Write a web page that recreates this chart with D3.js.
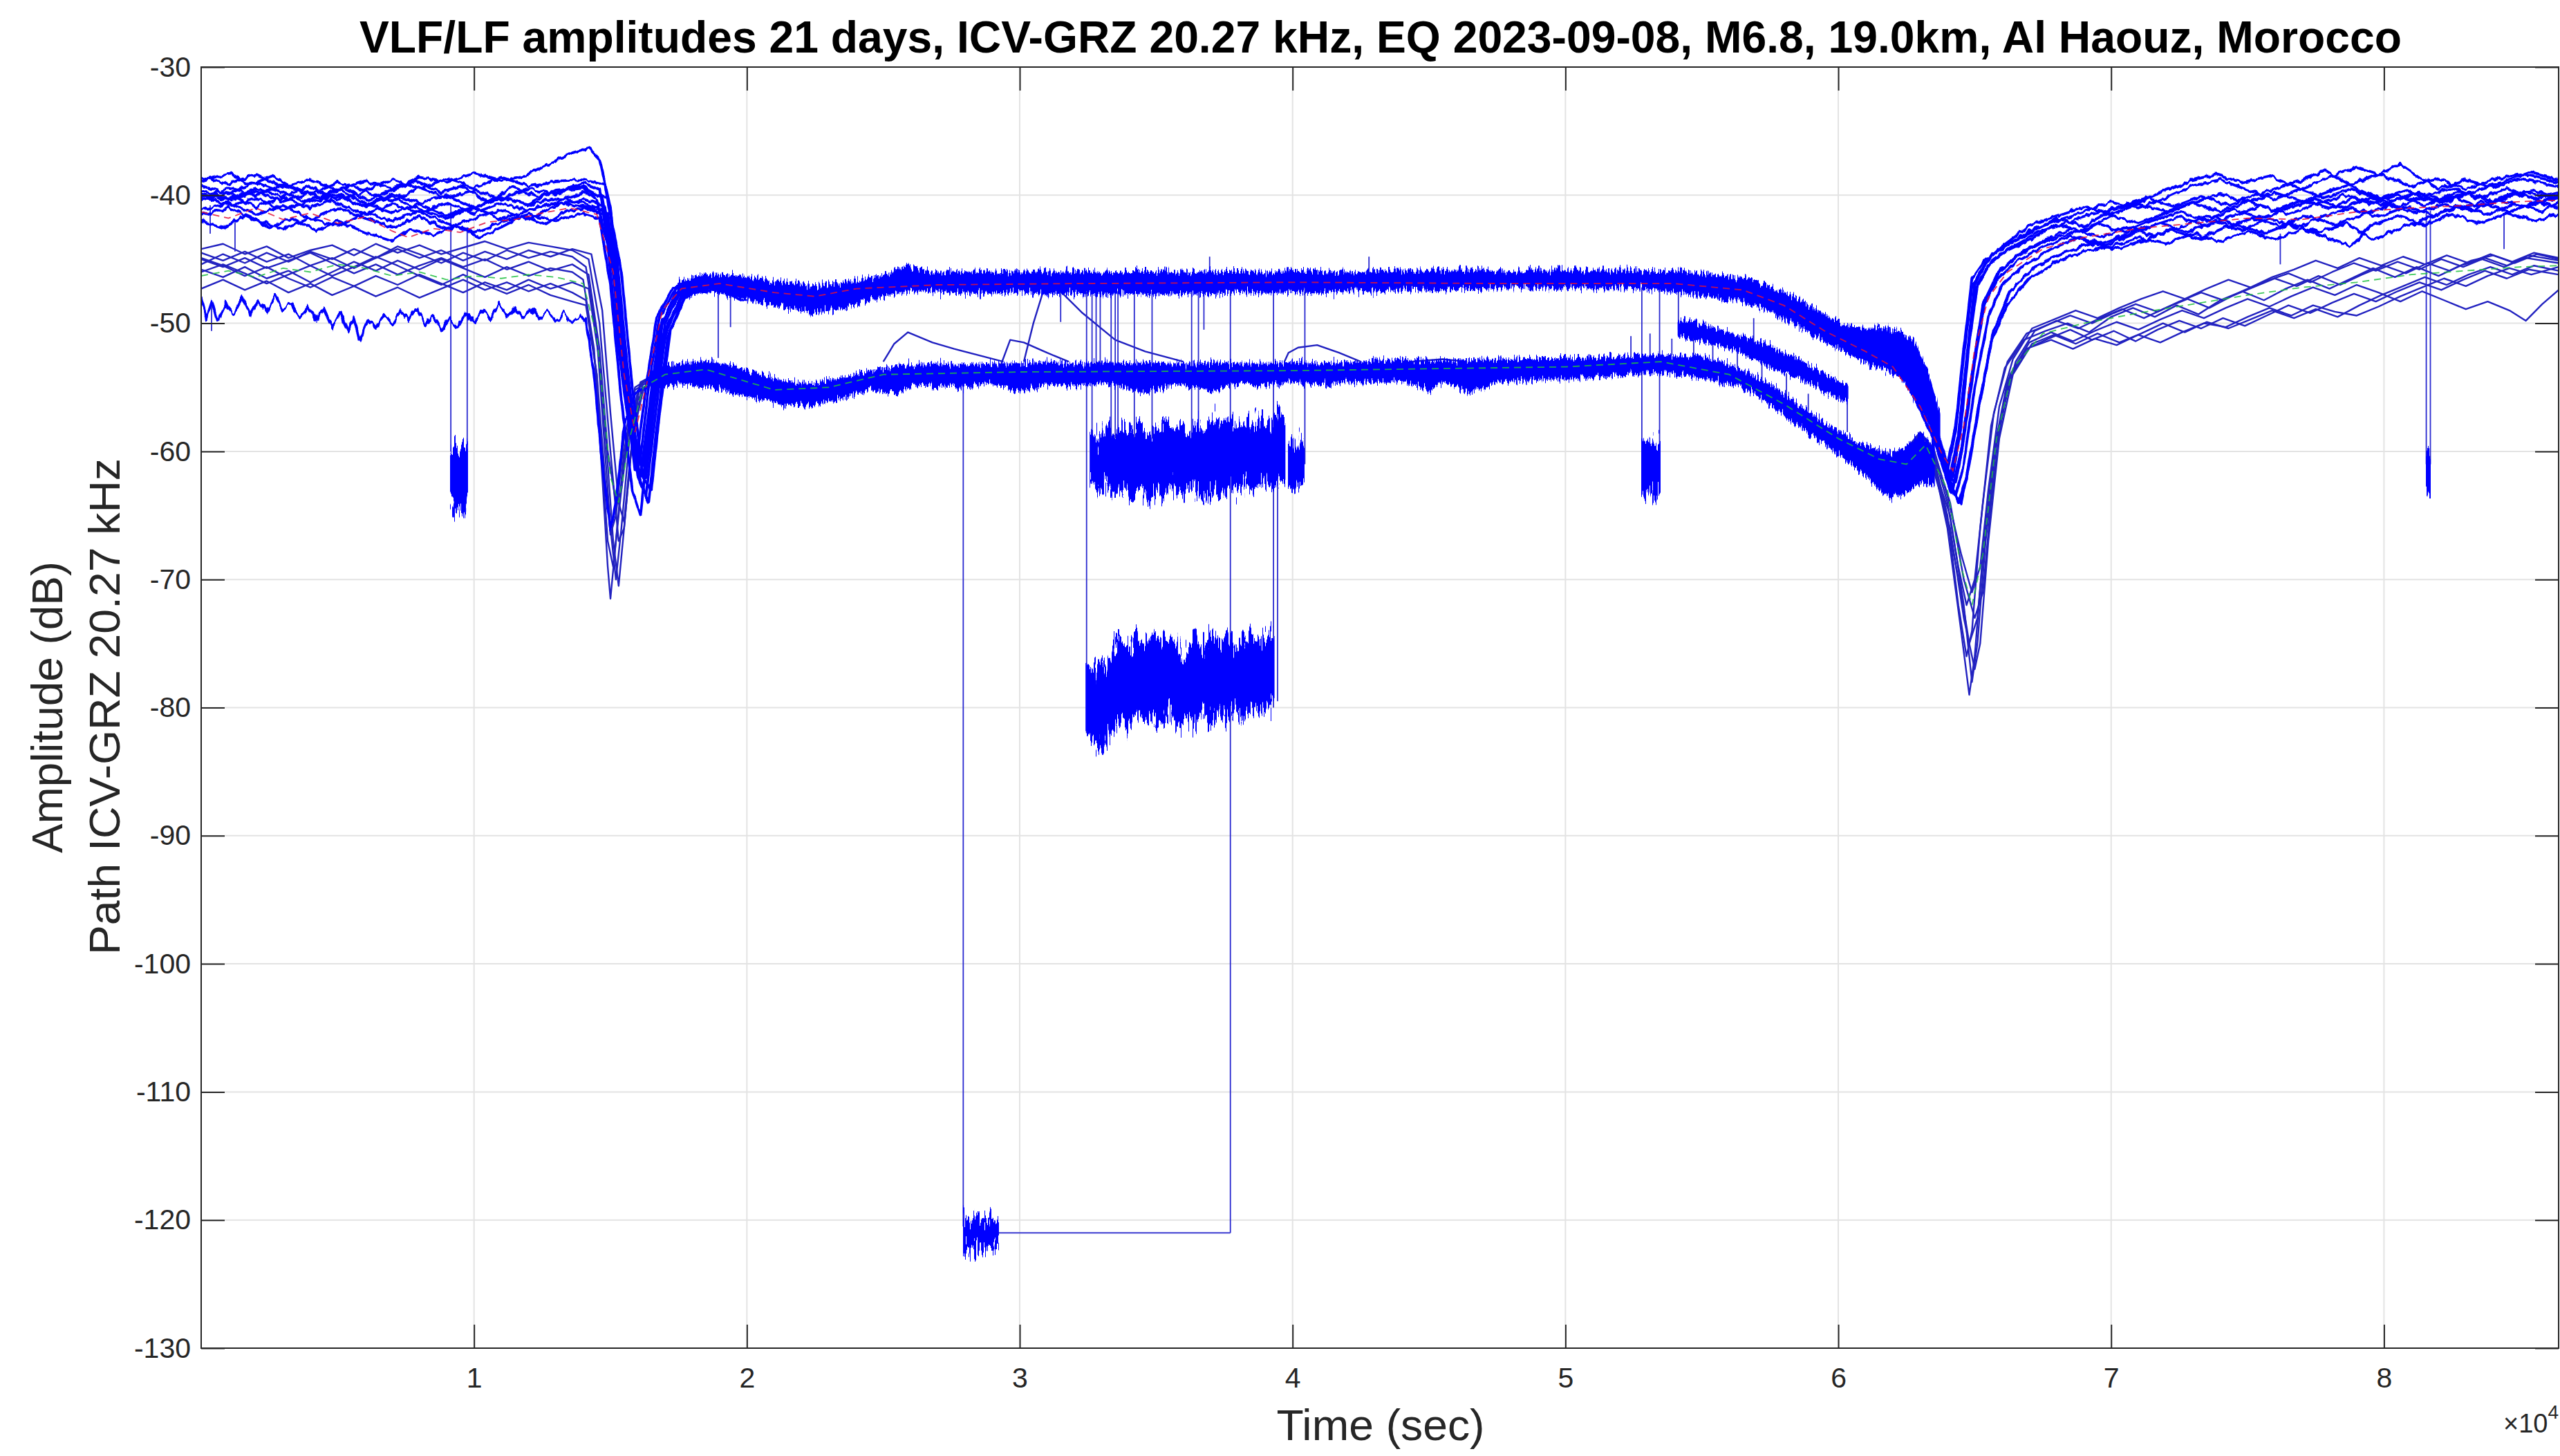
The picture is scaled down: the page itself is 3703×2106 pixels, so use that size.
<!DOCTYPE html>
<html lang="en">
<head>
<meta charset="utf-8">
<title>VLF/LF amplitudes 21 days, ICV-GRZ</title>
<script src="https://d3js.org/d3.v7.min.js"></script>
<style>
  body { margin: 0; background: #fff; }
  text { font-family: "Liberation Sans", Arial, Helvetica, sans-serif; fill: #262626; }
</style>
</head>
<body>
<svg id="chart" width="3703" height="2106"></svg>
<script>

// ---- data: time in ks (x 1000 sec), amplitude in dB ----

var xTicks = [10000, 20000, 30000, 40000, 50000, 60000, 70000, 80000];
var yTicks = [-130, -120, -110, -100, -90, -80, -70, -60, -50, -40, -30];

// night records, upper (thick) group, down to the sunrise dip and into the day band
var nightThick = [
  [[0,-38.6],[1,-39.1],[2,-38.4],[3,-39.4],[4,-38.8],[5,-39.6],[6,-38.9],[7,-39.5],[8,-38.6],[9,-39.0],[10,-38.3],[11,-38.9],[12,-38.4],[12.8,-37.5],[13.6,-36.7],[14.2,-36.3],[14.6,-37.2],[15.0,-41],[15.4,-50],[15.8,-58],[16.1,-60.5],[16.4,-55],[16.8,-49.5],[17.4,-47.3],[18.5,-46.5],[20,-46.9]],
  [[0,-39.6],[1,-40.3],[2,-39.5],[3,-40.1],[4,-39.3],[5,-40.4],[6,-39.7],[7,-40.5],[8,-39.4],[9,-40.2],[10,-39.6],[11,-40.3],[12,-39.5],[13,-39.9],[14,-39.1],[14.6,-39.6],[15.0,-44],[15.4,-52],[15.8,-59],[16.1,-62],[16.4,-57],[16.8,-50.5],[17.4,-47.6],[18.5,-46.8],[20,-47.3]],
  [[0,-40.5],[1,-39.8],[2,-40.9],[3,-40.2],[4,-41.0],[5,-40.1],[6,-40.8],[7,-39.9],[8,-40.6],[9,-40.0],[10,-41.0],[11,-40.2],[12,-40.7],[13,-39.6],[14,-39.4],[14.7,-40.2],[15.1,-45],[15.5,-54],[15.9,-61],[16.2,-63],[16.5,-57],[16.9,-50],[17.5,-47.4],[18.6,-46.7],[20,-47.6]],
  [[0,-41.2],[1,-40.6],[2,-41.5],[3,-40.8],[4,-41.9],[5,-41.0],[6,-41.8],[7,-42.5],[8,-41.7],[9,-42.6],[10,-41.8],[11,-41.2],[12,-41.9],[13,-40.8],[14,-40.3],[14.8,-40.9],[15.2,-46],[15.6,-55],[16.0,-62],[16.3,-63.5],[16.6,-58],[17.0,-51],[17.6,-47.8],[18.7,-46.9],[20,-47.9]],
  [[0,-42.0],[0.8,-42.6],[1.6,-41.6],[2.5,-42.5],[3.3,-41.8],[4.2,-42.8],[5,-42.0],[6,-42.9],[7,-43.6],[7.6,-42.7],[8.5,-43.1],[9.3,-42.4],[10.2,-43.3],[11,-42.5],[11.8,-41.6],[12.6,-42.3],[13.4,-41.2],[14.2,-41.0],[14.8,-41.6],[15.2,-47],[15.6,-56],[15.9,-61.5],[16.2,-62],[16.6,-56],[17.1,-50],[17.8,-47.8],[19,-47.3],[20,-48.3]],
  [[0,-38.9],[1,-38.3],[1.8,-39.2],[2.6,-38.5],[3.5,-39.6],[4.4,-40.2],[5.2,-39.4],[6.1,-40.4],[7,-39.6],[7.9,-38.9],[8.8,-39.8],[9.6,-39.3],[10.5,-40.5],[11.4,-39.4],[12.3,-40.1],[13.2,-39.7],[14,-39.5],[14.5,-40.4],[14.9,-44],[15.3,-52],[15.7,-58.5],[16.0,-60],[16.3,-55],[16.7,-49.5],[17.3,-47.2],[18.4,-46.4],[20,-46.8]],
  [[0,-40.0],[1,-40.8],[2,-40.2],[3,-41.2],[4,-40.4],[5,-39.5],[6,-40.6],[7,-41.4],[8,-40.7],[9,-41.6],[10,-40.9],[11,-40.1],[12,-40.8],[13,-40.2],[14,-40.6],[14.9,-41.4],[15.3,-47],[15.7,-56],[16.1,-62.5],[16.4,-64],[16.7,-58],[17.1,-51],[17.7,-48],[18.8,-47.1],[20,-47.8]],
  [[0,-39.2],[1,-39.9],[2,-39.0],[3,-39.8],[4,-40.6],[5,-39.9],[6,-40.9],[7,-40.1],[8,-41.1],[9,-41.8],[10,-41.0],[11,-41.9],[12,-41.2],[13,-40.6],[14,-40.9],[14.7,-41.1],[15.1,-46],[15.5,-55],[15.9,-60],[16.2,-61],[16.5,-56],[16.9,-49.8],[17.5,-47.5],[18.6,-46.6],[20,-47.2]],
  [[0,-41.6],[1,-41.0],[2,-41.9],[3,-42.6],[4,-41.8],[5,-42.4],[6,-41.4],[7,-42.0],[8,-41.3],[9,-42.2],[10,-42.9],[11,-42.1],[12,-41.5],[13,-42.0],[14,-41.4],[14.6,-41.8],[15.0,-47],[15.4,-56],[15.8,-63],[16.1,-65],[16.4,-59],[16.9,-51],[17.6,-48],[18.7,-47.0],[20,-48.0]],
  [[0,-40.3],[1,-39.4],[2,-40.0],[3,-39.2],[4,-39.9],[5,-39.0],[6,-39.6],[7,-38.8],[8,-39.5],[9,-38.7],[10,-39.4],[11,-38.6],[12,-39.3],[13,-38.9],[14,-38.8],[14.8,-39.2],[15.2,-44],[15.6,-53],[16.0,-60.5],[16.3,-62],[16.6,-56.5],[17.0,-50],[17.6,-47.4],[18.7,-46.5],[20,-47.0]],
  [[0,-39.9],[1,-40.4],[2,-39.7],[3,-40.5],[4,-39.8],[5,-40.7],[6,-41.5],[7,-40.7],[8,-41.4],[9,-40.6],[10,-41.4],[11,-40.6],[12,-41.2],[13,-40.5],[14,-39.8],[14.9,-40.2],[15.4,-46],[15.8,-55],[16.2,-62],[16.5,-63],[16.8,-57],[17.2,-50.5],[17.8,-47.7],[19,-46.9],[20,-47.5]]
];

// night records, lower (thin) group
var nightThin = [
  [[0,-44.2],[0.8,-43.8],[1.6,-44.6],[2.4,-44.0],[3.2,-44.9],[4,-44.3],[4.8,-43.9],[5.6,-44.7],[6.4,-43.8],[7.2,-44.5],[8,-43.9],[8.8,-44.6],[9.6,-44.1],[10.4,-43.6],[11.2,-44.2],[12,-43.7],[12.8,-44.0],[13.6,-44.3],[14.2,-45.0],[14.6,-50],[15.0,-60],[15.3,-67],[15.5,-66],[15.8,-59],[16.2,-54.5],[17,-53.6],[18.5,-53.3],[20,-54.2]],
  [[0,-45.4],[0.8,-44.6],[1.6,-45.3],[2.4,-44.5],[3.2,-45.2],[4,-44.4],[4.8,-45.0],[5.6,-44.2],[6.4,-44.9],[7.2,-44.0],[8,-44.6],[8.8,-45.3],[9.6,-44.5],[10.4,-45.1],[11.2,-44.3],[12,-44.9],[12.8,-44.4],[13.6,-44.8],[14.1,-45.6],[14.5,-51],[14.8,-60],[15.0,-66],[15.2,-70],[15.4,-66],[15.7,-59],[16.1,-54.8],[17,-53.5],[18.5,-53.2],[20,-54.6]],
  [[0,-45.8],[0.8,-46.4],[1.6,-45.6],[2.4,-46.5],[3.2,-45.9],[4,-46.8],[4.8,-46.0],[5.6,-45.2],[6.4,-45.9],[7.2,-45.1],[8,-45.8],[8.8,-45.0],[9.6,-45.7],[10.4,-46.4],[11.2,-45.6],[12,-46.3],[12.8,-45.7],[13.6,-46.0],[14.0,-46.6],[14.4,-52],[14.7,-62],[14.9,-69],[15.0,-71.5],[15.2,-67],[15.5,-60],[15.9,-55.0],[16.8,-53.8],[18.5,-53.4],[20,-55.0]],
  [[0,-44.9],[0.8,-45.5],[1.6,-46.3],[2.4,-45.6],[3.2,-46.5],[4,-47.2],[4.8,-46.4],[5.6,-47.1],[6.4,-46.3],[7.2,-47.0],[8,-46.2],[8.8,-46.9],[9.6,-47.6],[10.4,-46.8],[11.2,-47.4],[12,-46.6],[12.8,-47.3],[13.6,-46.8],[14.2,-47.3],[14.6,-53],[14.9,-61],[15.1,-67],[15.3,-70.5],[15.5,-66],[15.8,-59],[16.2,-55.2],[17,-54.0],[18.5,-53.6],[20,-55.3]],
  [[0,-46.0],[0.8,-45.4],[1.6,-46.1],[2.4,-46.9],[3.2,-46.2],[4,-45.5],[4.8,-46.3],[5.6,-45.6],[6.4,-44.8],[7.2,-45.5],[8,-46.3],[8.8,-47.0],[9.6,-46.2],[10.4,-47.0],[11.2,-47.7],[12,-47.0],[12.8,-47.8],[13.6,-48.3],[14.1,-48.6],[14.5,-54],[14.8,-62],[15.0,-66.5],[15.2,-65],[15.5,-59],[15.9,-55.2],[16.8,-54.0],[18.5,-53.7],[20,-55.5]],
  [[0,-44.5],[0.8,-45.1],[1.6,-44.4],[2.4,-45.2],[3.2,-44.6],[4,-45.5],[4.8,-44.9],[5.6,-45.7],[6.4,-44.9],[7.2,-44.2],[8,-44.9],[8.8,-44.3],[9.6,-45.1],[10.4,-44.4],[11.2,-45.0],[12,-44.3],[12.8,-44.8],[13.6,-44.2],[14.3,-44.6],[14.7,-49],[15.0,-57],[15.3,-64],[15.5,-65.5],[15.7,-61],[16.0,-56],[16.6,-53.8],[18.5,-53.1],[20,-54.0]],
  [[0,-47.3],[0.8,-46.6],[1.6,-47.4],[2.4,-46.7],[3.2,-47.6],[4,-46.9],[4.8,-47.8],[5.6,-47.1],[6.4,-47.9],[7.2,-47.2],[8,-48.0],[8.8,-47.3],[9.6,-46.6],[10.4,-47.4],[11.2,-46.8],[12,-47.5],[12.8,-46.9],[13.6,-47.6],[14.1,-48.2],[14.5,-54],[14.7,-61],[14.9,-67],[15.1,-69],[15.3,-65],[15.6,-59],[16.0,-55.4],[16.9,-54.2],[18.5,-53.8],[20,-55.6]],
  [[0,-45.0],[0.8,-45.6],[1.6,-44.9],[2.4,-45.7],[3.2,-45.1],[4,-44.5],[4.8,-45.3],[5.6,-46.1],[6.4,-45.4],[7.2,-46.2],[8,-45.5],[8.8,-44.9],[9.6,-45.6],[10.4,-45.0],[11.2,-45.8],[12,-45.2],[12.8,-45.9],[13.6,-45.4],[14.2,-46.2],[14.6,-52],[14.9,-60],[15.2,-64],[15.4,-63],[15.7,-58],[16.1,-54.6],[17,-53.6],[18.5,-53.4],[20,-54.8]]
];

// the noisy low record at night
var nightNoisy = [[0,-48.0],[0.2,-49.6],[0.4,-48.3],[0.6,-49.9],[0.9,-48.5],[1.2,-49.2],[1.5,-48.0],[1.8,-49.4],[2.1,-48.2],[2.4,-49.1],[2.7,-47.9],[3.0,-49.0],[3.3,-48.4],[3.6,-49.6],[3.9,-48.7],[4.2,-49.8],[4.5,-48.9],[4.8,-50.3],[5.1,-49.2],[5.4,-50.6],[5.6,-49.6],[5.8,-51.3],[6.1,-49.8],[6.4,-50.4],[6.7,-49.3],[7.0,-50.1],[7.3,-49.0],[7.6,-49.7],[7.9,-48.8],[8.2,-50.0],[8.5,-49.4],[8.8,-50.6],[9.1,-49.6],[9.4,-50.4],[9.7,-49.2],[10.0,-49.9],[10.3,-48.9],[10.6,-49.7],[10.9,-48.6],[11.2,-49.5],[11.5,-48.7],[11.8,-49.6],[12.1,-48.8],[12.4,-49.7],[12.7,-49.0],[13.0,-49.9],[13.3,-49.3],[13.6,-50.0],[13.9,-49.4],[14.1,-49.8],[14.4,-54],[14.7,-61],[15.0,-66],[15.2,-64],[15.5,-58],[15.9,-55.5],[16.5,-54.6],[17.5,-54.2]];

// evening records, upper (thick) group, from the day band through sunset dip to midnight
var eveningThick = [
  [[61.5,-51.0],[62.5,-52.5],[63.2,-55],[63.7,-59],[64.0,-61],[64.3,-58],[64.6,-52],[64.9,-46.5],[65.4,-45.0],[66,-44.2],[67,-42.8],[68,-42.0],[69,-41.3],[70,-40.5],[71,-41.0],[72,-40.2],[73,-39.2],[74,-38.8],[75,-39.6],[76,-40.3],[77,-39.5],[78,-38.6],[79,-37.8],[80,-38.5],[81,-39.3],[82,-38.7],[83,-39.5],[84,-38.8],[85,-38.3],[86.4,-39.0]],
  [[61.5,-51.5],[62.5,-53],[63.3,-56],[63.8,-60],[64.1,-62],[64.4,-59],[64.7,-53],[65.0,-47.5],[65.5,-45.5],[66,-44.5],[67,-43.5],[68,-42.3],[69,-42.8],[70,-41.6],[71,-42.2],[72,-41.4],[73,-40.6],[74,-41.3],[75,-40.5],[76,-41.2],[77,-40.4],[78,-41.0],[79,-40.2],[80,-40.8],[81,-39.9],[82,-40.6],[83,-39.8],[84,-40.4],[85,-39.7],[86.4,-40.3]],
  [[61.5,-52],[62.5,-53.5],[63.3,-57],[63.9,-61],[64.2,-63],[64.5,-60],[64.9,-54],[65.3,-48.5],[65.8,-46.2],[66.5,-44.8],[67.5,-43.6],[68.5,-43.0],[69.5,-42.2],[70.5,-42.9],[71.5,-42.0],[72.5,-41.3],[73.5,-42.0],[74.5,-41.1],[75.5,-41.8],[76.5,-41.0],[77.5,-40.3],[78.5,-41.0],[79.5,-40.2],[80.5,-40.9],[81.5,-40.1],[82.5,-39.4],[83.5,-40.2],[84.5,-39.5],[85.5,-40.3],[86.4,-39.8]],
  [[61.5,-52],[62.5,-54],[63.4,-58],[64.0,-62],[64.3,-63.5],[64.6,-61],[65.0,-55],[65.5,-49.5],[66.0,-47.0],[66.8,-45.5],[67.8,-44.2],[68.8,-43.3],[69.8,-43.9],[70.8,-43.0],[71.8,-42.2],[72.8,-42.9],[73.8,-42.0],[74.8,-42.7],[75.8,-41.8],[76.8,-42.5],[77.8,-41.6],[78.8,-41.0],[79.8,-41.7],[80.8,-40.9],[81.8,-41.6],[82.8,-40.8],[83.8,-41.5],[84.8,-40.7],[85.8,-41.2],[86.4,-40.6]],
  [[61.5,-52.5],[62.5,-54.5],[63.4,-58.5],[64.1,-62.5],[64.4,-64],[64.7,-62],[65.1,-57],[65.6,-51.5],[66.2,-48.5],[67,-46.5],[68,-45.2],[69,-44.4],[70,-44.0],[71,-43.3],[72,-43.8],[73,-43.0],[74,-43.6],[75,-42.8],[76,-43.5],[77,-42.6],[78,-43.4],[78.8,-44.0],[79.5,-42.4],[80.5,-41.6],[81.5,-42.3],[82.5,-41.5],[83.5,-42.2],[84.5,-41.4],[85.5,-42.0],[86.4,-41.5]],
  [[61.5,-51.2],[62.5,-52.8],[63.2,-55.5],[63.7,-59.5],[64.0,-61.5],[64.3,-58.5],[64.6,-52.5],[64.9,-47.2],[65.4,-45.3],[66,-44.0],[67,-43.0],[68,-41.8],[69,-42.4],[70,-41.2],[71,-40.6],[72,-39.6],[73,-38.8],[73.8,-38.4],[74.8,-39.0],[75.8,-38.5],[76.8,-39.4],[77.8,-40.2],[78.8,-39.5],[79.8,-40.3],[80.8,-39.6],[81.8,-40.4],[82.8,-39.7],[83.8,-40.5],[84.8,-39.8],[85.8,-40.5],[86.4,-40.0]],
  [[61.5,-52.2],[62.5,-54],[63.4,-57.5],[63.9,-61.5],[64.3,-62.5],[64.6,-59],[65.0,-53],[65.4,-48.0],[65.9,-46.0],[66.6,-44.6],[67.6,-43.4],[68.6,-42.6],[69.6,-43.3],[70.6,-42.5],[71.6,-43.2],[72.6,-42.4],[73.6,-41.6],[74.6,-42.3],[75.6,-43.0],[76.6,-42.2],[77.6,-42.9],[78.6,-42.2],[79.6,-43.5],[80.6,-42.6],[81.6,-41.8],[82.6,-41.1],[83.6,-40.6],[84.6,-41.3],[85.6,-40.5],[86.4,-41.0]],
  [[61.5,-51.6],[62.5,-53.2],[63.3,-56.5],[63.8,-60.5],[64.2,-62],[64.5,-58],[64.8,-51.5],[65.1,-47.0],[65.6,-45.2],[66.3,-44.1],[67.3,-42.9],[68.3,-42.2],[69.3,-41.5],[70.3,-40.9],[71.3,-40.2],[72.3,-40.9],[73.3,-40.1],[74.3,-40.8],[75.3,-40.0],[76.3,-39.3],[77.3,-38.6],[77.8,-38.0],[78.5,-38.9],[79.3,-39.8],[80.3,-40.5],[81.3,-39.8],[82.3,-40.5],[83.3,-39.7],[84.3,-39.0],[85.3,-38.2],[86.4,-38.8]],
  [[61.5,-52.6],[62.5,-54.5],[63.5,-59],[64.1,-63],[64.5,-64],[64.8,-61],[65.2,-56],[65.7,-50.5],[66.3,-47.5],[67.2,-45.6],[68.2,-44.6],[69.2,-43.8],[70.2,-44.2],[71.2,-43.5],[72.2,-42.7],[73.2,-43.4],[74.2,-42.5],[75.2,-41.8],[76.2,-42.4],[77.2,-41.6],[78.2,-42.3],[79.2,-41.5],[80.2,-40.8],[81.2,-41.4],[82.2,-40.7],[83.2,-41.2],[84.2,-40.4],[85.2,-40.9],[86.4,-40.2]],
  [[61.5,-51.3],[62.5,-52.9],[63.2,-55.8],[63.7,-59.8],[64.1,-61.8],[64.4,-58.8],[64.7,-52.8],[65.0,-47.0],[65.5,-45.0],[66,-44.0],[67,-42.4],[68,-41.6],[69,-40.9],[70,-41.5],[71,-40.7],[72,-41.3],[73,-40.6],[74,-39.9],[75,-40.6],[76,-39.8],[77,-40.5],[78,-39.7],[79,-39.0],[80,-38.2],[80.6,-37.6],[81.3,-38.6],[82,-39.5],[83,-38.8],[84,-39.4],[85,-38.7],[86.4,-39.3]],
  [[61.5,-51.8],[62.5,-53.6],[63.4,-57.2],[63.9,-61.2],[64.2,-62.8],[64.5,-60],[64.9,-54],[65.3,-48.8],[65.8,-46.6],[66.5,-45.2],[67.5,-44.0],[68.5,-43.2],[69.5,-43.9],[70.5,-43.1],[71.5,-42.4],[72.5,-41.7],[73.5,-42.4],[74.5,-41.6],[75.5,-40.8],[76.5,-41.5],[77.5,-40.7],[78.5,-40.0],[79.5,-40.7],[80.5,-40.0],[81.5,-40.8],[82.5,-40.1],[83.5,-40.9],[84.5,-40.2],[85.5,-39.6],[86.4,-40.3]]
];

// evening records, lower (thin) group
var eveningThin = [
  [[62.5,-60.5],[63.0,-59.0],[63.5,-60.5],[64.0,-65],[64.4,-72],[64.7,-76],[64.9,-74],[65.2,-66],[65.6,-58],[66.1,-53.5],[66.8,-51.3],[67.6,-50.6],[68.4,-50.0],[69.2,-50.7],[70,-49.5],[70.8,-48.8],[71.6,-49.5],[72.4,-48.6],[73.2,-49.3],[74,-48.2],[74.8,-47.5],[75.6,-48.2],[76.4,-47.3],[77.2,-46.6],[78,-47.3],[78.8,-46.5],[79.6,-45.7],[80.4,-46.4],[81.2,-45.6],[82,-46.3],[82.8,-45.5],[83.6,-45.0],[84.4,-45.6],[85.2,-44.9],[86.4,-45.3]],
  [[62.5,-61],[63.0,-59.5],[63.5,-61],[64.0,-66],[64.5,-74],[64.8,-79],[65.0,-76],[65.3,-68],[65.7,-60],[66.2,-54.5],[66.9,-52.0],[67.7,-51.2],[68.5,-50.5],[69.3,-51.3],[70.1,-50.6],[70.9,-51.4],[71.7,-50.5],[72.5,-49.8],[73.3,-50.4],[74.1,-49.6],[74.9,-50.2],[75.7,-49.4],[76.5,-48.6],[77.3,-49.2],[78.1,-48.4],[78.9,-47.7],[79.7,-48.3],[80.5,-47.5],[81.3,-46.8],[82.1,-47.4],[82.9,-46.6],[83.7,-45.9],[84.5,-46.5],[85.3,-45.8],[86.4,-46.2]],
  [[62.5,-60],[63.0,-58.6],[63.5,-60],[64.1,-64],[64.6,-70],[65.0,-73],[65.3,-71],[65.6,-64],[66.0,-57],[66.5,-53],[67.2,-50.6],[68,-49.8],[68.8,-50.4],[69.6,-49.6],[70.4,-48.9],[71.2,-49.6],[72,-48.8],[72.8,-48.1],[73.6,-48.8],[74.4,-47.9],[75.2,-47.2],[76,-46.5],[76.8,-47.1],[77.6,-46.3],[78.4,-47.0],[79.2,-46.2],[80,-45.5],[80.8,-46.1],[81.6,-45.3],[82.4,-45.9],[83.2,-45.1],[84,-44.7],[84.8,-45.3],[85.6,-44.6],[86.4,-45.0]],
  [[62.5,-61.5],[63.0,-60],[63.5,-61.5],[64.1,-66],[64.6,-73],[65.0,-77],[65.2,-75],[65.5,-67],[65.9,-59],[66.4,-54],[67.1,-51.6],[67.9,-50.9],[68.7,-51.6],[69.5,-50.8],[70.3,-51.5],[71.1,-50.8],[71.9,-50.0],[72.7,-50.7],[73.5,-49.9],[74.3,-50.4],[75.1,-49.7],[75.9,-49.0],[76.7,-49.6],[77.5,-48.9],[78.3,-49.5],[79.1,-48.6],[79.9,-47.8],[80.7,-47.1],[81.5,-46.4],[82.3,-47.0],[83.1,-46.2],[83.9,-45.6],[84.7,-46.2],[85.5,-45.5],[86.4,-45.9]],
  [[62.5,-60.2],[63.0,-58.8],[63.5,-60.2],[64.0,-64],[64.4,-69],[64.7,-72],[65.0,-70],[65.3,-64],[65.7,-57],[66.2,-53],[66.9,-50.8],[67.7,-50.1],[68.5,-49.4],[69.3,-50.0],[70.1,-49.2],[70.9,-48.5],[71.7,-49.1],[72.5,-48.3],[73.3,-47.6],[74.1,-48.2],[74.9,-47.4],[75.7,-46.7],[76.5,-46.1],[77.3,-46.8],[78.1,-46.0],[78.9,-45.3],[79.7,-45.9],[80.5,-45.2],[81.3,-45.8],[82.1,-45.0],[82.9,-45.6],[83.7,-44.9],[84.5,-45.5],[85.3,-44.7],[86.4,-45.1]],
  [[62.5,-60.8],[63.0,-59.2],[63.5,-60.8],[64.0,-65.5],[64.5,-71],[64.8,-75],[65.1,-73],[65.4,-66],[65.8,-59],[66.3,-54],[67,-51.5],[67.8,-50.7],[68.6,-51.4],[69.4,-50.6],[70.2,-49.9],[71,-50.5],[71.8,-49.7],[72.6,-49.0],[73.4,-49.6],[74.2,-48.8],[75,-48.1],[75.8,-48.7],[76.6,-47.9],[77.4,-47.2],[78.2,-47.8],[79,-47.0],[79.8,-47.6],[80.6,-48.3],[81.4,-47.5],[82.2,-48.2],[83,-48.9],[83.8,-48.3],[84.6,-49.0],[85.2,-49.8],[85.8,-48.5],[86.4,-47.4]],
  [[62.5,-59.8],[63.0,-58.5],[63.5,-59.8],[64.0,-63.5],[64.5,-68],[64.9,-71],[65.2,-69],[65.5,-63],[65.9,-56.5],[66.4,-52.8],[67.1,-50.4],[67.9,-49.7],[68.7,-49.0],[69.5,-49.6],[70.3,-48.8],[71.1,-48.1],[71.9,-47.5],[72.7,-48.1],[73.5,-47.3],[74.3,-46.6],[75.1,-47.2],[75.9,-46.4],[76.7,-45.8],[77.5,-45.1],[78.3,-45.7],[79.1,-44.9],[79.9,-45.5],[80.7,-44.8],[81.5,-45.4],[82.3,-44.7],[83.1,-45.3],[83.9,-44.6],[84.7,-45.2],[85.5,-44.5],[86.4,-44.9]],
  [[62.5,-61.2],[63.0,-59.8],[63.5,-61.2],[64.1,-65],[64.6,-72],[64.9,-78],[65.1,-75],[65.4,-67],[65.8,-59.5],[66.3,-54.3],[67,-51.9],[67.8,-51.3],[68.6,-52.0],[69.4,-51.2],[70.2,-51.7],[71,-50.9],[71.8,-51.5],[72.6,-50.7],[73.4,-50.0],[74.2,-50.3],[75,-49.5],[75.8,-48.8],[76.6,-49.4],[77.4,-48.6],[78.2,-49.1],[79,-49.4],[79.8,-48.7],[80.6,-47.9],[81.4,-47.2],[82.2,-46.5],[83,-47.1],[83.8,-46.3],[84.6,-45.7],[85.4,-46.2],[86.4,-45.6]]
];

// daytime bands of overlapping noisy records: [t, top, bottom]
var upperBand = [[17.5,-46.8,-48.0],[18.5,-46.2,-47.4],[19.5,-46.3,-47.8],[20.5,-46.6,-48.3],[21.5,-46.9,-48.8],[22.5,-47.1,-49.1],[23.5,-46.9,-48.8],[24.5,-46.5,-48.1],[25.3,-46.2,-47.7],[25.8,-45.6,-47.5],[26.4,-45.9,-47.4],[27,-46.1,-47.5],[28,-46.0,-47.6],[29,-46.1,-47.6],[30,-46.0,-47.5],[31,-46.1,-47.7],[32,-46.0,-47.6],[33,-46.1,-47.7],[34,-46.0,-47.6],[35,-46.0,-47.7],[36,-46.1,-47.6],[37,-46.0,-47.7],[38,-46.0,-47.5],[39,-46.1,-47.6],[40,-46.0,-47.5],[41,-46.0,-47.6],[42,-46.1,-47.4],[43,-46.0,-47.5],[44,-45.9,-47.3],[45,-46.0,-47.4],[46,-45.9,-47.3],[47,-45.9,-47.3],[48,-46.0,-47.2],[49,-45.9,-47.3],[50,-45.9,-47.2],[51,-45.9,-47.2],[52,-45.9,-47.2],[53,-46.0,-47.3],[54,-46.0,-47.5],[55,-46.2,-47.8],[56,-46.4,-48.1],[56.6,-46.5,-48.3],[57.5,-47.2,-49.0],[58.5,-48.1,-50.1],[59.5,-49.4,-51.4],[60.3,-50.2,-52.2],[61,-50.5,-53.0],[61.7,-50.4,-53.6],[62.3,-50.7,-54.2],[62.8,-51.6,-55.8],[63.3,-54.0,-57.5],[63.7,-57.0,-59.5]];

var lowerBand = [[16.5,-53.6,-55.2],[17.5,-53.2,-54.7],[18.5,-53.0,-54.9],[19.5,-53.4,-55.4],[20.5,-54.1,-55.9],[21.5,-54.6,-56.4],[22.5,-54.7,-56.3],[23.5,-54.3,-55.8],[24.5,-53.8,-55.1],[25.5,-53.4,-55.5],[26,-53.3,-54.7],[27,-53.2,-54.8],[28,-53.3,-54.9],[29,-53.2,-54.6],[30,-53.2,-55.3],[31,-53.1,-54.7],[32,-53.2,-54.9],[33,-53.1,-54.6],[34,-53.2,-55.0],[34.6,-53.1,-55.4],[35.5,-53.2,-54.7],[36.5,-53.2,-54.9],[37.2,-53.1,-55.3],[38,-53.2,-54.6],[39,-53.2,-54.8],[40,-53.1,-54.5],[41,-53.2,-54.7],[42,-53.1,-54.5],[43,-53.0,-54.6],[44,-52.9,-54.4],[45,-53.0,-55.2],[45.5,-53.0,-54.5],[46.5,-52.9,-55.4],[47.5,-52.9,-54.5],[48.5,-52.8,-54.4],[49.5,-52.8,-54.3],[50.5,-52.8,-54.3],[51.5,-52.7,-54.1],[52.5,-52.6,-53.9],[53.5,-52.5,-53.8],[54.5,-52.6,-54.1],[55.5,-52.9,-54.4],[56.6,-53.8,-55.0],[57.6,-55.0,-56.4],[58.6,-56.5,-58.0],[59.5,-57.8,-59.4],[60.3,-58.8,-60.6],[61,-59.6,-61.9],[61.9,-60.2,-63.6],[62.5,-59.7,-63.2],[63,-58.6,-62.4],[63.5,-59.6,-62.6]];

var middleSegment = [[54.15,-49.8,-50.9],[54.6,-50.0,-51.1],[55.1,-50.2,-51.4],[55.6,-50.5,-51.7],[56.1,-50.8,-52.0],[56.6,-51.1,-52.4],[57.1,-51.5,-52.9],[57.6,-51.9,-53.4],[58.1,-52.4,-53.9],[58.6,-52.9,-54.3],[59.1,-53.5,-54.8],[59.6,-54.1,-55.4],[60.0,-54.6,-55.8],[60.33,-54.9,-56.1]];

// dropout blocks: [t, top, bottom]
var dropBlockA = [[32.6,-58.5,-62.3],[32.9,-59.2,-63.0],[33.2,-58.0,-62.4],[33.5,-58.8,-63.3],[33.8,-57.9,-62.6],[34.1,-58.6,-63.6],[34.4,-58.1,-62.8],[34.7,-59.0,-63.9],[35.0,-58.3,-62.9],[35.3,-57.6,-63.5],[35.6,-58.5,-62.6],[35.9,-57.9,-63.2],[36.2,-58.7,-62.5],[36.5,-57.7,-62.9],[36.8,-58.4,-63.6],[37.1,-57.5,-62.7],[37.4,-58.2,-63.4],[37.7,-57.4,-62.6],[38.0,-58.3,-63.1],[38.3,-57.6,-62.4],[38.6,-58.2,-63.0],[38.9,-57.3,-62.3],[39.2,-57.8,-62.9],[39.5,-56.9,-62.2],[39.7,-57.6,-62.0]];
var dropBlockB = [[39.85,-59.8,-62.6],[40.0,-59.2,-63.2],[40.15,-59.9,-62.4],[40.3,-59.0,-62.8],[40.42,-59.6,-62.2]];
var dropBlockC = [[32.45,-76.5,-81.5],[32.7,-77.2,-82.6],[32.95,-76.6,-83.2],[33.2,-77.0,-82.4],[33.45,-75.2,-81.4],[33.7,-74.8,-80.6],[34.0,-75.6,-81.4],[34.3,-74.5,-80.2],[34.6,-75.3,-81.1],[34.9,-74.2,-80.5],[35.2,-75.0,-81.3],[35.5,-74.4,-80.0],[35.8,-75.4,-81.6],[36.1,-76.0,-80.7],[36.4,-74.6,-81.3],[36.7,-75.5,-80.2],[37.0,-74.3,-81.0],[37.3,-75.2,-80.3],[37.6,-74.4,-80.9],[37.9,-75.6,-80.1],[38.2,-74.9,-80.8],[38.5,-74.2,-79.8],[38.8,-75.1,-80.4],[39.1,-74.4,-79.9],[39.3,-74.0,-79.6]];
var floorBlock = [[27.95,-119.8,-122.0],[28.2,-120.2,-122.4],[28.45,-119.7,-121.8],[28.7,-120.1,-122.5],[28.95,-119.8,-122.0],[29.2,-120.3,-121.9]];
var glitchEarly = [[9.15,-60.0,-63.8],[9.3,-59.6,-64.6],[9.45,-60.4,-64.0],[9.6,-59.5,-64.8],[9.75,-60.0,-63.6]];
var glitchLate = [[52.8,-59.2,-62.8],[52.95,-59.8,-63.3],[53.1,-59.1,-62.6],[53.3,-59.6,-63.5],[53.45,-59.3,-62.9]];
var glitchNight = [[81.55,-60.5,-62.8],[81.7,-60.0,-63.4]];

var floorLine = [[29.2,-121.0],[37.72,-121.0]];

// single records leaving the lower day band
var dayHumps = [
  [[25.0,-53.0],[25.4,-51.6],[25.9,-50.7],[26.8,-51.5],[27.6,-52.0],[28.5,-52.5],[29.4,-53.0]],
  [[29.3,-53.3],[29.65,-51.3],[30.15,-51.5],[31.0,-52.3],[31.8,-53.0]],
  [[30.15,-53.0],[30.5,-50.0],[30.86,-47.5]],
  [[31.4,-47.3],[32.3,-49.2],[33.5,-51.3],[34.6,-52.2],[36.0,-53.0]],
  [[39.7,-53.0],[39.85,-52.3],[40.2,-51.9],[40.9,-51.7],[41.7,-52.3],[42.5,-53.0]],
  [[44.3,-53.0],[45.5,-52.8],[46.4,-53.0]]
];

// vertical steps and spikes: [t, from, to]
var spikes = [
  [0.33,-40.8,-43.0],[1.24,-41.9,-44.4],[0.38,-48.5,-50.6],[9.15,-40.8,-60.0],[9.75,-42.6,-60.0],
  [18.95,-46.8,-52.7],[19.4,-47.0,-50.3],[27.93,-54.0,-120.5],[31.5,-47.5,-49.9],
  [32.45,-47.5,-82.0],[32.65,-47.5,-59.0],[32.8,-47.5,-53.5],[32.95,-47.5,-53.5],
  [33.35,-47.5,-59.0],[33.5,-47.5,-59.0],[33.6,-47.5,-59.0],[34.2,-47.5,-59.0],
  [34.85,-47.5,-59.0],[36.3,-47.5,-59.0],[36.55,-47.5,-59.0],[36.75,-47.5,-50.5],
  [36.96,-46.5,-44.8],[37.72,-47.5,-121.0],[39.3,-47.5,-80.0],[39.45,-57.5,-79.5],
  [40.45,-47.3,-61.0],[42.8,-46.5,-44.8],
  [52.4,-52.7,-51.0],[52.8,-47.2,-61.0],[53.1,-52.6,-50.8],[53.45,-61.0,-46.5],
  [53.9,-52.5,-51.2],[54.14,-47.2,-50.5],[54.7,-52.7,-50.6],[55.4,-53.0,-51.4],
  [56.3,-53.5,-51.8],[56.9,-51.6,-49.6],[57.2,-54.5,-52.4],[58.1,-55.8,-53.9],
  [58.9,-56.8,-55.5],[60.33,-55.5,-58.5],
  [76.2,-43.0,-45.4],[81.55,-41.0,-61.0],[81.7,-41.2,-61.0],[84.4,-41.4,-44.2]
];

// dashed mean curves
var upperMean = [[0,-41.3],[1,-41.8],[2,-41.0],[3,-41.9],[4,-41.4],[5,-42.2],[6,-41.7],[7,-42.8],[7.6,-43.3],[8.5,-42.6],[9.5,-42.9],[10.5,-42.1],[11.5,-41.9],[12.5,-41.4],[13.5,-41.0],[14.5,-41.5],[15.1,-46],[15.5,-54],[15.9,-58.5],[16.3,-55],[16.9,-49],[17.6,-47.3],[19,-46.9],[21,-47.6],[22.5,-47.9],[24,-47.3],[27,-47.0],[32,-46.9],[40,-46.8],[48,-46.9],[54,-46.9],[56.5,-47.4],[58,-48.6],[59.5,-50.6],[61,-52.2],[62,-53.4],[63,-56.5],[63.8,-60.2],[64.2,-61.5],[64.6,-58],[65.0,-52],[65.5,-48],[66.2,-46],[67.5,-44.2],[69,-43.3],[71,-42.6],[73,-42.2],[75,-41.8],[77,-41.9],[79,-41.3],[81,-41.0],[83,-40.8],[85,-40.5],[86.4,-40.4]];
var lowerMean = [[0,-46.3],[1,-45.9],[2,-46.4],[3,-45.7],[4,-46.0],[5,-45.4],[6,-45.7],[7,-46.3],[8,-46.0],[9,-46.6],[10,-46.3],[11,-46.5],[12,-46.2],[13,-46.4],[14,-46.9],[14.5,-51],[15.0,-62],[15.3,-64],[15.7,-59],[16.2,-55],[17,-54.0],[18.5,-53.6],[21,-55.2],[23,-55.0],[25,-54.0],[30,-53.8],[40,-53.7],[50,-53.4],[53.5,-53.0],[56,-54.0],[58,-56.3],[60,-59.0],[61.5,-60.6],[62.5,-61.0],[63.2,-59.5],[64,-63],[64.5,-69],[64.9,-72],[65.3,-68],[65.8,-59],[66.4,-53.5],[67.5,-50.8],[69,-50.0],[71,-49.2],[73,-48.5],[75,-47.8],[77,-47.2],[79,-46.8],[81,-46.2],[83,-45.9],[85,-45.6],[86.4,-45.5]];

// ---- drawing ----

var width = 3703, height = 2106;
var plotLeft = 291, plotRight = 3701, plotTop = 97, plotBottom = 1950;
var tickLen = 34;
var axisColor = "#262626";

var svg = d3.select("#chart");
svg.append("rect").attr("width", width).attr("height", height).attr("fill", "#ffffff");

var x = d3.scaleLinear().domain([0, 86400]).range([plotLeft, plotRight]);
var y = d3.scaleLinear().domain([-130, -30]).range([plotBottom, plotTop]);

var defs = svg.append("defs");
defs.append("clipPath").attr("id", "plotClip")
  .append("rect").attr("x", plotLeft).attr("y", plotTop)
  .attr("width", plotRight - plotLeft).attr("height", plotBottom - plotTop);

// vertical jitter texture for noisy records
function addFuzz(id, scale, freq) {
  var f = defs.append("filter").attr("id", id)
    .attr("x", "-2%").attr("y", "-30%").attr("width", "104%").attr("height", "160%")
    .attr("color-interpolation-filters", "sRGB");
  f.append("feTurbulence").attr("type", "fractalNoise").attr("baseFrequency", freq)
    .attr("numOctaves", 2).attr("seed", 7).attr("result", "n");
  f.append("feColorMatrix").attr("in", "n").attr("type", "matrix")
    .attr("values", "0 0 0 0 0.5  0 1 0 0 0  0 0 1 0 0  0 0 0 0 1").attr("result", "m");
  f.append("feDisplacementMap").attr("in", "SourceGraphic").attr("in2", "m")
    .attr("scale", scale).attr("xChannelSelector", "R").attr("yChannelSelector", "G");
}
addFuzz("fuzzS", 26, "0.45 0.04");
addFuzz("fuzzL", 70, "0.4 0.03");
addFuzz("fuzzLine", 9, "0.12 0.05");
addFuzz("fuzzN", 16, "0.15 0.05");

// grid
var grid = svg.append("g").attr("stroke", "#e3e3e3").attr("stroke-width", 2);
grid.selectAll("line.gx").data(xTicks).enter().append("line")
  .attr("x1", function(d) { return x(d); }).attr("x2", function(d) { return x(d); })
  .attr("y1", plotTop).attr("y2", plotBottom);
grid.selectAll("line.gy").data(yTicks).enter().append("line")
  .attr("x1", plotLeft).attr("x2", plotRight)
  .attr("y1", function(d) { return y(d); }).attr("y2", function(d) { return y(d); });

var plot = svg.append("g").attr("clip-path", "url(#plotClip)");

var line = d3.line()
  .x(function(d) { return x(d[0] * 1000); })
  .y(function(d) { return y(d[1]); });

var band = d3.area()
  .x(function(d) { return x(d[0] * 1000); })
  .y1(function(d) { return y(d[1]); })
  .y0(function(d) { return y(d[2]); });

function drawBand(data, filterId) {
  plot.append("path").datum(data)
    .attr("d", band)
    .attr("fill", "#0000ff")
    .attr("stroke", "#0000ff")
    .attr("stroke-width", 3)
    .attr("filter", "url(#" + filterId + ")");
}

function drawLines(data, color, w, filterId) {
  var g = plot.append("g");
  if (filterId) g.attr("filter", "url(#" + filterId + ")");
  g.selectAll("path").data(data).enter().append("path")
    .attr("d", line)
    .attr("fill", "none")
    .attr("stroke", color)
    .attr("stroke-width", w)
    .attr("stroke-linejoin", "round");
  return g;
}

// thin records first, thick on top
drawLines(nightThin, "#2222c0", 2.4);
drawLines(eveningThin, "#2222c0", 2.4);
drawLines(dayHumps, "#2020c0", 2.4);

// vertical steps
plot.append("g").selectAll("line").data(spikes).enter().append("line")
  .attr("x1", function(d) { return x(d[0] * 1000); })
  .attr("x2", function(d) { return x(d[0] * 1000); })
  .attr("y1", function(d) { return y(d[1]); })
  .attr("y2", function(d) { return y(d[2]); })
  .attr("stroke", "#2a2ad0")
  .attr("stroke-width", 1.8);

plot.append("path").datum(floorLine).attr("d", line)
  .attr("fill", "none").attr("stroke", "#3a3ad0").attr("stroke-width", 2);

drawBand(upperBand, "fuzzS");
drawBand(lowerBand, "fuzzS");
drawBand(middleSegment, "fuzzS");
drawBand(dropBlockA, "fuzzL");
drawBand(dropBlockB, "fuzzL");
drawBand(dropBlockC, "fuzzL");
drawBand(floorBlock, "fuzzL");
drawBand(glitchEarly, "fuzzL");
drawBand(glitchLate, "fuzzL");
drawBand(glitchNight, "fuzzL");

drawLines(nightThick, "#0000ff", 3.8, "fuzzLine");
drawLines(eveningThick, "#0000ff", 3.8, "fuzzLine");
drawLines([nightNoisy], "#0000ff", 3.6, "fuzzN");

plot.append("path").datum(upperMean).attr("d", line)
  .attr("fill", "none").attr("stroke", "#e0103a").attr("stroke-width", 1.8)
  .attr("stroke-dasharray", "10,7").attr("opacity", 0.85);
plot.append("path").datum(lowerMean).attr("d", line)
  .attr("fill", "none").attr("stroke", "#20c040").attr("stroke-width", 1.8)
  .attr("stroke-dasharray", "10,7").attr("opacity", 0.85);

// axes
var xAxis = d3.axisBottom(x).tickValues(xTicks)
  .tickFormat(function(d) { return String(d / 10000); })
  .tickSizeInner(-tickLen).tickSizeOuter(0).tickPadding(28);
var yAxis = d3.axisLeft(y).tickValues(yTicks)
  .tickFormat(function(d) { return String(d); })
  .tickSizeInner(-tickLen).tickSizeOuter(0).tickPadding(15);

function styleAxis(g) {
  g.select(".domain").remove();
  g.attr("font-family", "'Liberation Sans', Arial, sans-serif")
   .attr("font-size", 41)
   .style("color", axisColor);
  g.selectAll(".tick line").attr("stroke-width", 2);
}

svg.append("g").attr("transform", "translate(0," + plotBottom + ")").call(xAxis).call(styleAxis);
svg.append("g").attr("transform", "translate(" + plotLeft + ",0)").call(yAxis).call(styleAxis);
svg.append("g").attr("transform", "translate(0," + plotTop + ")")
  .call(d3.axisTop(x).tickValues(xTicks).tickFormat("").tickSizeInner(-tickLen).tickSizeOuter(0))
  .call(styleAxis);
svg.append("g").attr("transform", "translate(" + plotRight + ",0)")
  .call(d3.axisRight(y).tickValues(yTicks).tickFormat("").tickSizeInner(-tickLen).tickSizeOuter(0))
  .call(styleAxis);

svg.append("rect")
  .attr("x", plotLeft).attr("y", plotTop)
  .attr("width", plotRight - plotLeft).attr("height", plotBottom - plotTop)
  .attr("fill", "none").attr("stroke", axisColor).attr("stroke-width", 2);

// titles
svg.append("text")
  .attr("x", 1997).attr("y", 76)
  .attr("text-anchor", "middle")
  .attr("font-size", 65).attr("font-weight", "bold")
  .attr("textLength", 2954).attr("lengthAdjust", "spacingAndGlyphs")
  .style("fill", "#000")
  .text("VLF/LF amplitudes 21 days, ICV-GRZ 20.27 kHz, EQ 2023-09-08, M6.8, 19.0km, Al Haouz, Morocco");

svg.append("text")
  .attr("x", 1997).attr("y", 2083)
  .attr("text-anchor", "middle")
  .attr("font-size", 63)
  .attr("textLength", 301).attr("lengthAdjust", "spacingAndGlyphs")
  .text("Time (sec)");

svg.append("text")
  .attr("transform", "translate(90,1023) rotate(-90)")
  .attr("text-anchor", "middle")
  .attr("font-size", 63)
  .attr("textLength", 422).attr("lengthAdjust", "spacingAndGlyphs")
  .text("Amplitude (dB)");

svg.append("text")
  .attr("transform", "translate(173,1022) rotate(-90)")
  .attr("text-anchor", "middle")
  .attr("font-size", 63)
  .attr("textLength", 718).attr("lengthAdjust", "spacingAndGlyphs")
  .text("Path ICV-GRZ 20.27 kHz");

var expo = svg.append("text")
  .attr("x", plotRight).attr("y", 2072)
  .attr("text-anchor", "end")
  .attr("font-size", 38);
expo.append("tspan").text("\u00d710");
expo.append("tspan").attr("font-size", 28).attr("dy", -20).text("4");

</script>
</body>
</html>
